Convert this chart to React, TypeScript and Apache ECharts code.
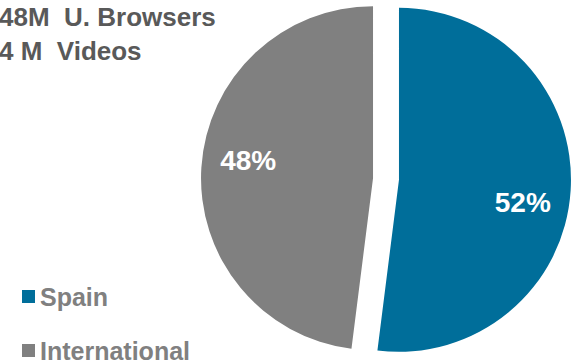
import React, { useEffect, useRef } from "react";
import * as echarts from "echarts";

const categories = ["Spain", "International"];
const shares = [52, 48];
const colors = ["#006E9A", "#808080"];
const headerLines = ["48M  U. Browsers", "4 M  Videos"];

export default function App() {
  const ref = useRef<HTMLDivElement>(null);
  useEffect(() => {
    if (!ref.current) return;
    const chart = echarts.init(ref.current, null, { renderer: "svg" });
    const font = "'Liberation Sans', Arial, sans-serif";
    const labelShift = [
      [35, 17],
      [-36, -12],
    ];
    const legendTops = [284, 338];
    chart.setOption({
      animation: false,
      legend: categories.map((name, i) => ({
        orient: "vertical",
        left: 22,
        top: legendTops[i],
        padding: 0,
        icon: "rect",
        itemWidth: 13,
        itemHeight: 13,
        selectedMode: false,
        textStyle: {
          color: "#808080",
          fontSize: 25,
          lineHeight: 20,
          fontWeight: "bold",
          fontFamily: font,
        },
        data: [name],
      })),
      graphic: headerLines.map((t, i) => ({
        type: "text",
        x: -1,
        y: 17 + i * 34,
        style: {
          text: t,
          fontSize: 26,
          fontWeight: "bold",
          fontFamily: font,
          fill: "#595959",
          textVerticalAlign: "middle",
        },
      })),
      series: [
        {
          type: "pie",
          center: [386, 179],
          radius: 172,
          startAngle: 90,
          clockwise: true,
          selectedMode: "multiple",
          selectedOffset: 13,
          emphasis: { disabled: true },
          label: {
            show: true,
            position: "inside",
            formatter: "{c}%",
            color: "#ffffff",
            fontSize: 28,
            fontWeight: "bold",
            fontFamily: font,
          },
          labelLine: { show: false },
          labelLayout: (params: any) => ({
            dx: labelShift[params.dataIndex][0],
            dy: labelShift[params.dataIndex][1],
          }),
          data: categories.map((name, i) => ({
            name,
            value: shares[i],
            selected: true,
            itemStyle: { color: colors[i] },
          })),
        },
      ],
    });
    return () => chart.dispose();
  }, []);
  return (
    <div
      ref={ref}
      style={{ position: "fixed", left: 0, top: 0, width: 571, height: 363, background: "#fff" }}
    />
  );
}
